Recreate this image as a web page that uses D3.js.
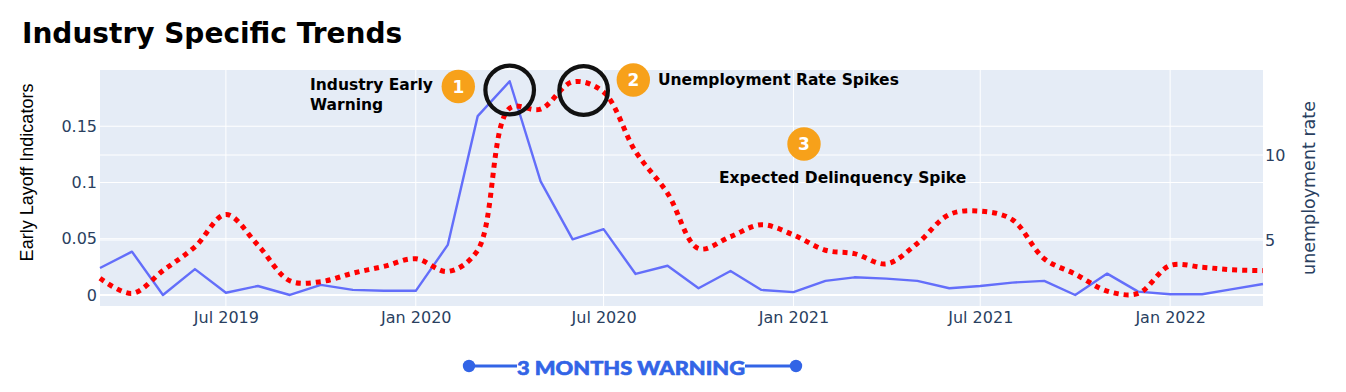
<!DOCTYPE html>
<html><head><meta charset="utf-8">
<script src="https://cdn.jsdelivr.net/npm/d3@7"></script>
<style>body{margin:0;background:#fff}svg{display:block}</style>
</head><body><svg id="c" width="1346" height="392"></svg>
<script>
const months = ["2019-03","2019-04","2019-05","2019-06","2019-07","2019-08","2019-09","2019-10","2019-11","2019-12",
"2020-01","2020-02","2020-03","2020-04","2020-05","2020-06","2020-07","2020-08","2020-09","2020-10","2020-11","2020-12",
"2021-01","2021-02","2021-03","2021-04","2021-05","2021-06","2021-07","2021-08","2021-09","2021-10","2021-11","2021-12",
"2022-01","2022-02","2022-03","2022-04"];
const layoffIndicators = [0.024,0.0385,0.0,0.023,0.002,0.008,0.0,0.009,0.0045,0.0037,
0.0037,0.0445,0.159,0.190,0.101,0.0495,0.0585,0.0187,0.026,0.006,0.0213,0.0045,
0.0025,0.0125,0.0157,0.0145,0.0125,0.006,0.008,0.011,0.0125,0.0,0.019,0.003,
0.0006,0.0006,0.005,0.0098];
const unemploymentRate = [2.75,1.86,3.2,4.6,6.5,4.7,2.6,2.55,3.05,3.45,
3.9,3.15,4.4,12.75,12.7,14.3,13.7,10.2,7.75,4.5,5.2,5.9,
5.3,4.4,4.2,3.6,4.8,6.5,6.7,6.2,3.9,3.0,2.0,1.86,
3.5,3.4,3.25,3.2];
const xTickMonths = ["2019-07","2020-01","2020-07","2021-01","2021-07","2022-01"];
const leftTicks = [0,0.05,0.1,0.15];
const rightTicks = [5,10];
const titleText = "Industry Specific Trends";
const leftAxisTitle = "Early Layoff Indicators";
const rightAxisTitle = "unemployment rate";

const parse = d3.timeParse("%Y-%m");
const svg = d3.select("#c");
const L = 100, R = 1263, T = 70, B = 306;
const x = d3.scaleTime().domain([parse(months[0]), parse(months[months.length-1])]).range([L, R]);
const yL = d3.scaleLinear().domain([-0.0098, 0.2]).range([B, T]);
const yR = d3.scaleLinear().domain([1.12, 15]).range([B, T]);
const tickFont = "DejaVu Sans, Verdana, sans-serif";
const tickColor = "#2a3f5f";

svg.append("rect").attr("width",1346).attr("height",392).attr("fill","#fff");
svg.append("rect").attr("x",L).attr("y",T).attr("width",R-L).attr("height",B-T).attr("fill","#e5ecf6");

// grid
const g = svg.append("g");
g.selectAll(".vx").data(xTickMonths).join("line")
  .attr("x1",d=>x(parse(d))).attr("x2",d=>x(parse(d))).attr("y1",T).attr("y2",B)
  .attr("stroke","#fff").attr("stroke-width",1);
g.selectAll(".hl").data(leftTicks).join("line")
  .attr("x1",L).attr("x2",R).attr("y1",d=>yL(d)).attr("y2",d=>yL(d))
  .attr("stroke","#fff").attr("stroke-width",d=>d===0?2:1);
g.selectAll(".hr").data(rightTicks).join("line")
  .attr("x1",L).attr("x2",R).attr("y1",d=>yR(d)).attr("y2",d=>yR(d))
  .attr("stroke","#fff").attr("stroke-width",1);

// axes
function styleAxis(sel){
  sel.select(".domain").remove();
  sel.selectAll("text").attr("font-family",tickFont).attr("font-size",16).attr("fill",tickColor);
}
svg.append("g").attr("transform",`translate(0,${B})`)
  .call(d3.axisBottom(x).tickValues(xTickMonths.map(parse)).tickFormat(d3.timeFormat("%b %Y")).tickSize(0).tickPadding(6))
  .call(styleAxis);
svg.append("g").attr("transform",`translate(${L},0)`)
  .call(d3.axisLeft(yL).tickValues(leftTicks).tickFormat(d3.format("~g")).tickSize(0).tickPadding(3))
  .call(styleAxis);
svg.append("g").attr("transform",`translate(${R},0)`)
  .call(d3.axisRight(yR).tickValues(rightTicks).tickFormat(d3.format("~g")).tickSize(0).tickPadding(2))
  .call(styleAxis);

// lines
const blueLine = d3.line().x((d,i)=>x(parse(months[i]))).y(d=>yL(d));
svg.append("path").datum(layoffIndicators).attr("d",blueLine)
  .attr("fill","none").attr("stroke","#636efa").attr("stroke-width",2.4).attr("stroke-linejoin","round");
const redLine = d3.line().x((d,i)=>x(parse(months[i]))).y(d=>yR(d)).curve(d3.curveCatmullRom.alpha(0.5));
svg.append("path").datum(unemploymentRate).attr("d",redLine)
  .attr("fill","none").attr("stroke","#f00").attr("stroke-width",5).attr("stroke-dasharray","5,5");

// title
svg.append("text").attr("x",22).attr("y",43).text(titleText)
  .attr("font-family","DejaVu Sans, Verdana, sans-serif").attr("font-weight","bold").attr("font-size",28).attr("fill","#000");

// axis titles
svg.append("text").attr("transform","translate(33,172.5) rotate(-90)").attr("text-anchor","middle")
  .text(leftAxisTitle).attr("font-family","Liberation Sans, Arial, sans-serif").attr("font-size",18).attr("fill","#000");
svg.append("text").attr("transform","translate(1315,188) rotate(-90)").attr("text-anchor","middle")
  .text(rightAxisTitle).attr("font-family",tickFont).attr("font-size",17.5).attr("fill",tickColor);

// annotations
const annFont = "DejaVu Sans, Verdana, sans-serif";
function annText(tx, ax, ay){
  svg.append("text").attr("x",ax).attr("y",ay).text(tx)
    .attr("font-family",annFont).attr("font-weight","bold").attr("font-size",15.5).attr("fill","#000");
}
annText("Industry Early",310,89.5);
annText("Warning",310,109.5);
annText("Unemployment Rate Spikes",658,84.5);
annText("Expected Delinquency Spike",719,182.5);

function badge(n,cx,cy){
  svg.append("circle").attr("cx",cx).attr("cy",cy).attr("r",16.7).attr("fill","#f7a11a");
  svg.append("text").attr("x",cx).attr("y",cy+6).attr("text-anchor","middle").text(n)
    .attr("font-family",annFont).attr("font-weight","bold").attr("font-size",17).attr("fill","#fff");
}
badge("1",458.3,86.5);
badge("2",633.3,80);
badge("3",804,144);

// black rings around peaks
[["2020-04",90],["2020-06",90.5]].forEach(([m,cy],i)=>{
  const cx = i===0 ? x(parse(m)) : x(parse(m))+11;
  svg.append("circle").attr("cx",cx).attr("cy",cy).attr("r",24.3)
    .attr("fill","none").attr("stroke","#111").attr("stroke-width",4.2);
});

// 3 months warning
const wc = "#3264e6";
svg.append("line").attr("x1",469).attr("x2",517).attr("y1",366).attr("y2",366).attr("stroke",wc).attr("stroke-width",3);
svg.append("line").attr("x1",745).attr("x2",796).attr("y1",366).attr("y2",366).attr("stroke",wc).attr("stroke-width",3);
svg.append("circle").attr("cx",469).attr("cy",366).attr("r",6.2).attr("fill",wc);
svg.append("circle").attr("cx",796).attr("cy",366).attr("r",6.2).attr("fill",wc);
svg.append("text").attr("x",517).attr("y",375).text("3 MONTHS WARNING")
  .attr("font-family","Lato, sans-serif").attr("font-weight",900).attr("font-size",19)
  .attr("stroke",wc).attr("stroke-width",0.6)
  .attr("textLength",228).attr("lengthAdjust","spacingAndGlyphs").attr("fill",wc);
</script></body></html>
